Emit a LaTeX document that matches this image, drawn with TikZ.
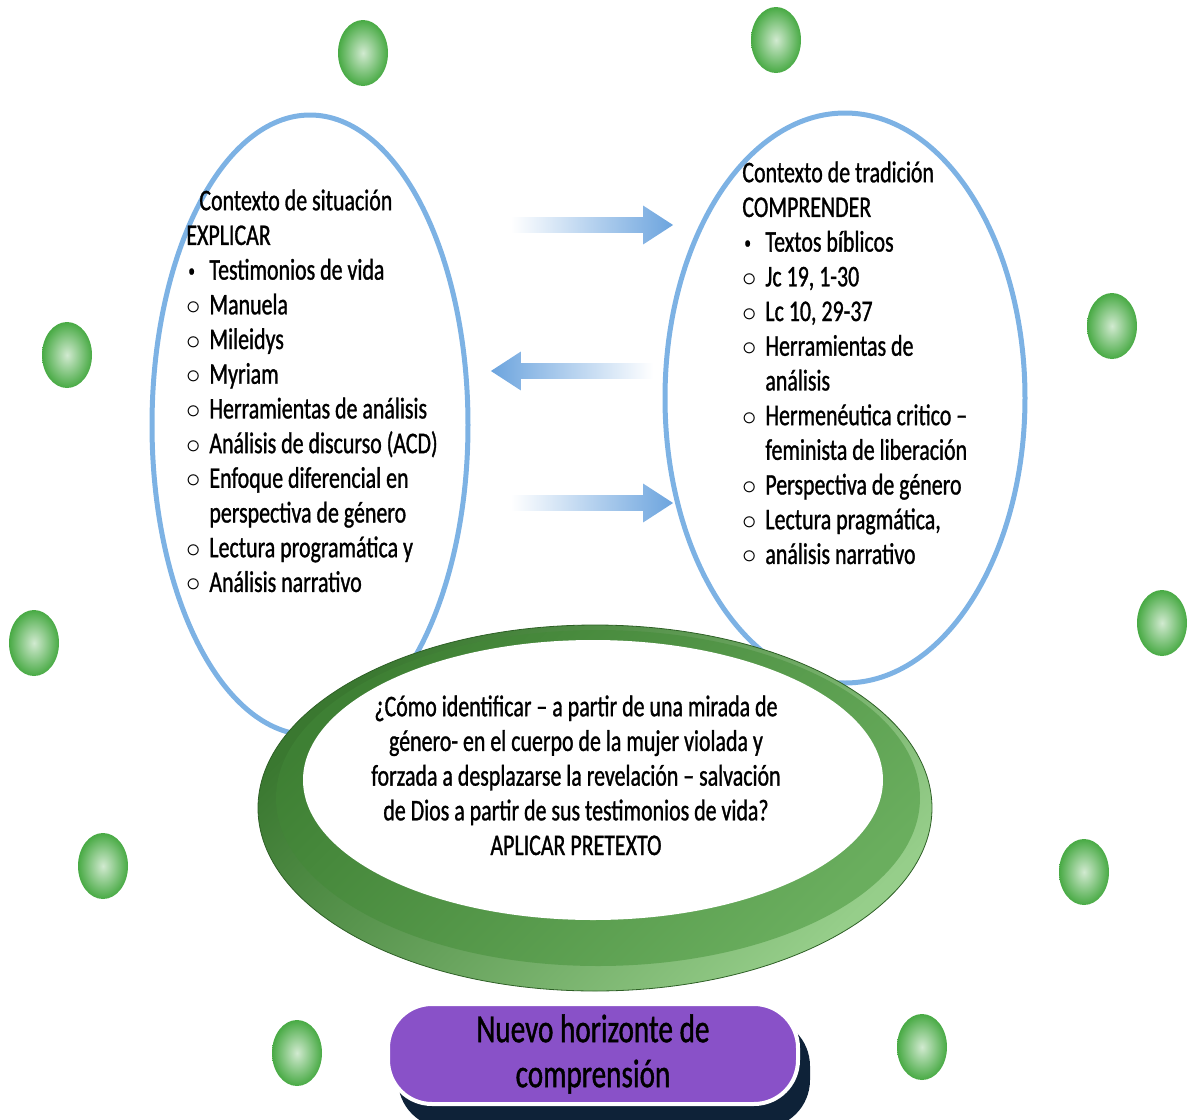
\documentclass[tikz,border=0pt]{standalone}
\usepackage{fontspec}
\setmainfont{Carlito}[FakeStretch=0.73,FakeBold=1.0]
\usetikzlibrary{shapes.geometric,shapes.arrows}
\definecolor{ringblue}{RGB}{125,178,228}
\definecolor{arrowblue}{RGB}{108,164,222}
\definecolor{ballgreen}{RGB}{72,170,68}
\definecolor{ringdark}{RGB}{58,120,48}
\definecolor{ringmid}{RGB}{80,160,66}
\definecolor{ringlight}{RGB}{150,206,138}
\definecolor{boxpurple}{RGB}{137,81,200}
\definecolor{boxshadow}{RGB}{14,34,56}
\newcommand{\dotitem}{\makebox[11.5pt][l]{\hspace*{1pt}\raisebox{1.5pt}{\scalebox{0.6}{\textbullet}}}}
\newcommand{\circitem}{\makebox[11.5pt][l]{$\circ$}}

\begin{document}
\begin{tikzpicture}[x=0.5pt,y=-0.5pt,>=latex]
\tikzset{
  contexto/.style={ellipse,draw=ringblue,line width=2.5pt,inner sep=0pt},
  lista/.style={anchor=north west,align=left,inner sep=0pt,font=\fontsize{15}{17.35}\selectfont},
  flecha/.style={single arrow,minimum height=81pt,inner xsep=0pt,inner ysep=3.75pt,
    single arrow head extend=5.75pt,single arrow tip angle=66},
  bola/.style={inner color=ballgreen!25!white,outer color=ballgreen},
  caja/.style={rectangle,rounded corners=22pt,fill=boxpurple,draw=white,line width=2pt,
    minimum width=205pt,minimum height=50pt,align=center,font=\fontsize{20}{22.5}\selectfont},
}
\useasboundingbox (0,0) rectangle (1191,1120);

% green balls
\foreach \bx/\by in {363/53,776/40,67/355,1112/326,34/643,1162/623,103/866,1084/872,297/1053,922/1047}
  \shade[bola] (\bx,\by) ellipse [x radius=25, y radius=33];

% the two contexts
\node[contexto,minimum width=158pt,minimum height=310pt] (situacion) at (310,425) {};
\node[contexto,minimum width=180pt,minimum height=285pt] (tradicion) at (845,398) {};

\node[lista] (txtsit) at (186,189) {\hspace*{6.5pt}Contexto de situación\\
EXPLICAR\\
\dotitem Testimonios de vida\\
\circitem Manuela\\
\circitem Mileidys\\
\circitem Myriam\\
\circitem Herramientas de análisis\\
\circitem Análisis de discurso (ACD)\\
\circitem Enfoque diferencial en\\
\hspace*{11.5pt}perspectiva de género\\
\circitem Lectura programática y\\
\circitem Análisis narrativo};

\node[lista] (txttrad) at (742,161) {Contexto de tradición\\
COMPRENDER\\
\dotitem Textos bíblicos\\
\circitem Jc 19, 1-30\\
\circitem Lc 10, 29-37\\
\circitem Herramientas de\\
\hspace*{11.5pt}análisis\\
\circitem Hermenéutica critico --\\
\hspace*{11.5pt}feminista de liberación\\
\circitem Perspectiva de género\\
\circitem Lectura pragmática,\\
\circitem análisis narrativo};

% arrows between contexts
\node[flecha,left color=white,right color=arrowblue] (ida) at (586,225) {};
\node[flecha,shape border rotate=180,left color=arrowblue,right color=white] (vuelta) at (578,371) {};
\node[flecha,left color=white,right color=arrowblue] (ida2) at (586,503) {};

% green ring
\shade[left color=ringdark,right color=ringlight,shading angle=45,draw=ringdark!80!black,thin]
  (595,808) ellipse [x radius=337, y radius=183];
\shade[left color=ringdark!80!ringmid,right color=ringmid!85!white,shading angle=45]
  (598,798) ellipse [x radius=322, y radius=168];
\fill[white] (593,780) ellipse [x radius=290, y radius=140];

\node[anchor=north,align=center,inner sep=0pt,font=\fontsize{15}{17.35}\selectfont] (pregunta) at (576,695)
  {¿Cómo identificar -- a partir de una mirada de\\
  género- en el cuerpo de la mujer violada y\\
  forzada a desplazarse la revelación -- salvación\\
  de Dios a partir de sus testimonios de vida?\\
  APLICAR PRETEXTO};

% new horizon
\fill[boxshadow,rounded corners=24pt] (398,1018) rectangle (810,1128);
\node[caja] (horizonte) at (593,1054) {Nuevo horizonte de\\comprensión};
\end{tikzpicture}
\end{document}
